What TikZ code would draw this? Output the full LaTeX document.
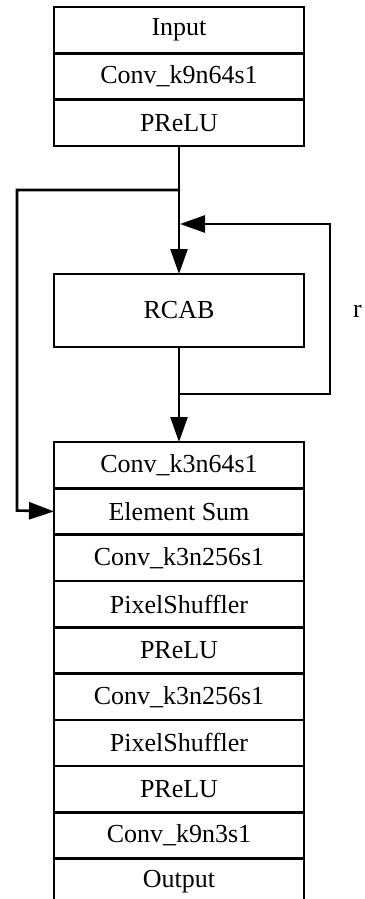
\documentclass[tikz,border=0pt]{standalone}
\usepackage{fontspec}
\setmainfont{Liberation Serif}
\usetikzlibrary{arrows.meta,positioning,calc}

\tikzset{
  layer/.style={draw, line width=2.6pt, minimum width=250pt, minimum height=46.3pt,
                inner sep=0pt, outer sep=0pt, font=\fontsize{26}{28}\selectfont},
  wire/.style={line width=2.6pt},
  tip/.style={wire, -{Triangle[length=25pt,width=17pt]}}
}

\begin{document}
\begin{tikzpicture}[x=1pt,y=-1pt]

\useasboundingbox (0,0) rectangle (364,899);
\clip (0,0) rectangle (364,899);

\def\headLayers{Input, Conv\_k9n64s1, PReLU}
\def\tailLayers{Conv\_k3n64s1, Element Sum, Conv\_k3n256s1, PixelShuffler, PReLU,
                Conv\_k3n256s1, PixelShuffler, PReLU, Conv\_k9n3s1, Output}

% head of the network
\foreach \n [count=\ni] in \headLayers
\node[layer] (h\ni) at (179, {7+23.15+(\ni-1)*46.3}) {\n};

% residual block
\node[layer, minimum height=73pt] (rcab) at (179, 310.5) {RCAB};

% tail of the network
\foreach \n [count=\ni] in \tailLayers
\node[layer] (t\ni) at (179, {442+23.15+(\ni-1)*46.3}) {\n};

% the loop round RCAB
\coordinate (split)  at (180,190);
\coordinate (fbIn)   at (180,224);
\coordinate (fbOut)  at (180,394);
\coordinate (fbTop)  at (330,224);
\coordinate (fbBot)  at (330,394);
\coordinate (skipTop) at (17,190);
\coordinate (skipBot) at (17,510.5);

\draw[tip] (h3.south) -- (rcab.north);
\draw[tip] (rcab.south) -- (t1.north);
\draw[tip] (fbOut) -- (fbBot) -- (fbTop) -- (fbIn);
\draw[tip] (split) -- (skipTop) -- (skipBot) -- (t2.west);

\node[anchor=base west, inner sep=0pt, font=\fontsize{26}{28}\selectfont] (rep) at (353,317) {r};

\end{tikzpicture}
\end{document}
